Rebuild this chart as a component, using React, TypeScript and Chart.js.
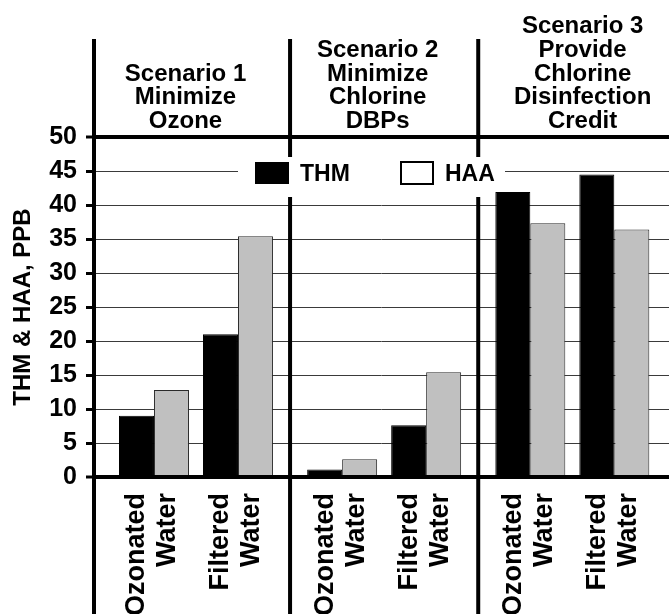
import React, { useEffect, useRef } from 'react';
import { Chart, registerables } from 'chart.js';

Chart.register(...registerables);

// ---------- data ----------
const categories: string[][] = [
  ['Ozonated', 'Water'],
  ['Filtered', 'Water'],
  ['Ozonated', 'Water'],
  ['Filtered', 'Water'],
  ['Ozonated', 'Water'],
  ['Filtered', 'Water'],
];
const scenarioTitles: string[][] = [
  ['Scenario 1', 'Minimize', 'Ozone'],
  ['Scenario 2', 'Minimize', 'Chlorine', 'DBPs'],
  ['Scenario 3', 'Provide', 'Chlorine', 'Disinfection', 'Credit'],
];
const seriesNames = ['THM', 'HAA'];
const thmValues = [9.0, 21.0, 1.1, 7.6, 41.9, 44.5];
const haaValues = [12.8, 35.4, 2.6, 15.4, 37.3, 36.4];
const yAxisTitle = 'THM & HAA, PPB';
const yMin = 0;
const yMax = 50;
const yStep = 5;

// ---------- layout / style ----------
const FONT = "'Liberation Sans', Arial, Helvetica, sans-serif";
const GROUP_GAP = 0.24; // extra space between scenarios, in category units
const X_MIN = -0.714;
const X_MAX = 6.131;
const xPos = categories.map((_, i) => i + Math.floor(i / 2) * GROUP_GAP);
const barColors = ['#000000', '#c0c0c0'];
const barBorders = ['#000000', '#2a2a2a'];
const legendSwatches = ['#000000', '#ffffff'];
const headerOffsets = [-6.5, -6.5, 9];

const decorPlugin = {
  id: 'decor',
  beforeDatasetsDraw(chart: any) {
    const { ctx, chartArea, scales } = chart;
    const xs = scales.x;
    const seps: number[] = [chartArea.left];
    for (let s = 1; s < scenarioTitles.length; s++) {
      const a = xs.getPixelForValue(xPos[2 * s - 1]);
      const b = xs.getPixelForValue(xPos[2 * s]);
      seps.push((a + b) / 2);
    }
    ctx.save();
    // vertical axis + separators
    ctx.strokeStyle = '#000';
    ctx.lineWidth = 4;
    seps.forEach((px) => {
      ctx.beginPath();
      ctx.moveTo(px, 39);
      ctx.lineTo(px, chart.height);
      ctx.stroke();
    });

    // legend
    ctx.fillStyle = '#fff';
    ctx.fillRect(238, 157, 267, 40);
    const items = [
      { box: 255, text: 300 },
      { box: 400, text: 445 },
    ];
    ctx.font = `bold 23px ${FONT}`;
    ctx.textBaseline = 'alphabetic';
    ctx.textAlign = 'left';
    items.forEach((it, i) => {
      ctx.fillStyle = legendSwatches[i];
      ctx.fillRect(it.box, 162, 34, 22);
      if (legendSwatches[i] === '#ffffff') {
        ctx.strokeStyle = '#000';
        ctx.lineWidth = 2;
        ctx.strokeRect(it.box + 1, 162, 32, 22);
      }
      ctx.fillStyle = '#000';
      ctx.fillText(seriesNames[i], it.text, 181);
    });

    // scenario headers
    ctx.font = `bold 24px ${FONT}`;
    ctx.textAlign = 'center';
    ctx.fillStyle = '#000';
    const ends = [...seps, chartArea.right];
    scenarioTitles.forEach((lines, s) => {
      const cx = (ends[s] + ends[s + 1]) / 2 + headerOffsets[s];
      const lh = 23.7;
      const lastBase = 128;
      lines.forEach((ln, k) => {
        ctx.fillText(ln, cx, lastBase - (lines.length - 1 - k) * lh);
      });
    });
    ctx.restore();
  },
  afterDatasetsDraw(chart: any) {
    const { ctx, chartArea, scales } = chart;
    const y0 = scales.y.getPixelForValue(0);
    ctx.save();
    ctx.strokeStyle = '#000';
    ctx.lineWidth = 4;
    ctx.beginPath();
    ctx.moveTo(chartArea.left, y0);
    ctx.lineTo(chartArea.right, y0);
    ctx.stroke();
    ctx.restore();
  },
};

export default function App() {
  const ref = useRef<HTMLCanvasElement | null>(null);

  useEffect(() => {
    if (!ref.current) return;
    const chart = new Chart(ref.current, {
      type: 'bar',
      data: {
        datasets: [
          {
            label: seriesNames[0],
            data: thmValues.map((v, i) => ({ x: xPos[i], y: v })),
            backgroundColor: barColors[0],
            borderColor: barBorders[0],
            borderWidth: 1,
            categoryPercentage: 0.833,
            barPercentage: 1,
          },
          {
            label: seriesNames[1],
            data: haaValues.map((v, i) => ({ x: xPos[i], y: v })),
            backgroundColor: barColors[1],
            borderColor: barBorders[1],
            borderWidth: 1,
            categoryPercentage: 0.833,
            barPercentage: 1,
          },
        ],
      } as any,
      options: {
        animation: false,
        responsive: false,
        maintainAspectRatio: false,
        layout: { padding: { top: 137, left: 0, right: 0, bottom: 0 } },
        plugins: {
          legend: { display: false },
          tooltip: { enabled: false },
        },
        scales: {
          x: {
            type: 'linear',
            min: X_MIN,
            max: X_MAX,
            offset: false,
            grid: { display: false, drawTicks: false },
            border: { display: false },
            afterBuildTicks: (s: any) => {
              s.ticks = xPos.map((v) => ({ value: v }));
            },
            afterFit: (s: any) => {
              s.height = 137;
              s.paddingLeft = 0;
              s.paddingRight = 0;
            },
            ticks: {
              autoSkip: false,
              minRotation: 90,
              maxRotation: 90,
              padding: 16,
              labelOffset: -17,
              color: '#000',
              font: { family: FONT, size: 27, weight: 'bold', lineHeight: 1.15 },
              callback: (_v: any, i: number) => categories[i],
            },
          },
          y: {
            min: yMin,
            max: yMax,
            afterFit: (s: any) => {
              s.width = 94;
              s.paddingTop = 0;
              s.paddingBottom = 0;
            },
            ticks: {
              stepSize: yStep,
              padding: 9,
              color: '#000',
              font: { family: FONT, size: 25, weight: 'bold' },
            },
            grid: {
              color: (c: any) =>
                c.tick && (c.tick.value === yMin || c.tick.value === yMax) ? '#000' : '#3a3a3a',
              lineWidth: (c: any) =>
                c.tick && (c.tick.value === yMin || c.tick.value === yMax) ? 4 : 1,
              drawTicks: true,
              tickLength: 8,
              tickWidth: 3,
              tickColor: '#000',
            },
            border: { display: false },
            title: {
              display: true,
              text: yAxisTitle,
              color: '#000',
              font: { family: FONT, size: 24, weight: 'bold' },
              padding: { top: 9, bottom: 0 },
            },
          },
        },
      } as any,
      plugins: [decorPlugin],
    });
    return () => chart.destroy();
  }, []);

  return (
    <div style={{ position: 'fixed', left: 0, top: 0, width: 669, height: 614, background: '#fff', overflow: 'hidden' }}>
      <canvas ref={ref} width={669} height={614} style={{ display: 'block', width: 669, height: 614 }} />
    </div>
  );
}
